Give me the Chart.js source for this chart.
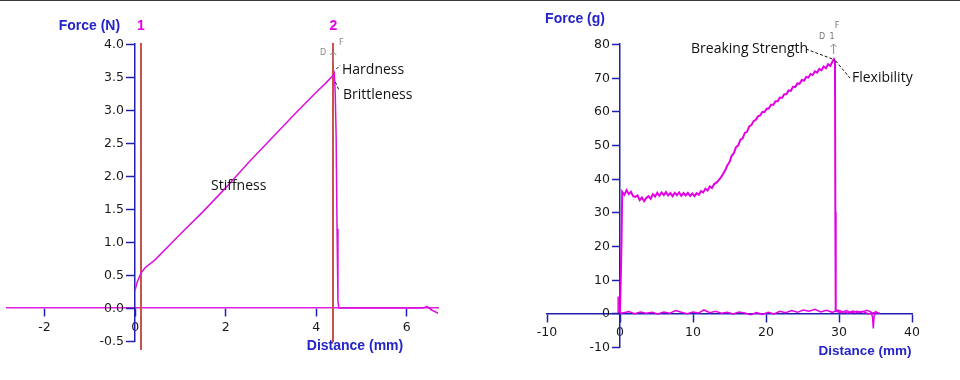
<!DOCTYPE html>
<html><head><meta charset="utf-8">
<script src="https://cdn.jsdelivr.net/npm/chart.js@4.4.1/dist/chart.umd.min.js"></script>
<style>
html,body{margin:0;padding:0;background:#fff;}
#wrap{position:relative;width:960px;height:380px;overflow:hidden;background:#fff;}
#topline{position:absolute;left:0;top:0;width:960px;height:1px;background:#3a3a3a;}
canvas{position:absolute;top:0;}
</style></head><body>
<div id="wrap">
<canvas id="cL" width="480" height="380" style="left:0"></canvas>
<canvas id="cR" width="480" height="380" style="left:480px"></canvas>
<div id="topline"></div>
</div>
<script>
// ---------- Left chart: Force (N) vs Distance (mm) ----------
const distL = [0, 0.05, 0.13, 0.22, 0.44, 1.0, 1.5, 2.0, 2.5, 3.0, 3.5, 4.0, 4.2, 4.38, 4.40, 4.42, 4.44, 4.46, 4.48, 4.50, 5.0, 5.5, 6.0, 6.35, 6.45, 6.55, 6.70];
const forceL = [0.27, 0.40, 0.53, 0.61, 0.73, 1.12, 1.46, 1.82, 2.20, 2.56, 2.92, 3.27, 3.40, 3.53, 3.56, 3.25, 2.60, 1.20, 0.10, 0.0, 0.0, 0.0, 0.0, 0.0, 0.02, -0.03, -0.08];
const xTicksL = [-2, 0, 2, 4, 6];
const xTickLabelsL = ['-2', '0', '2', '4', '6'];
const yTicksL = [-0.5, 0, 0.5, 1.0, 1.5, 2.0, 2.5, 3.0, 3.5, 4.0];
const yTickLabelsL = ['-0.5', '0.0', '0.5', '1.0', '1.5', '2.0', '2.5', '3.0', '3.5', '4.0'];
const markerDistL = [0.13, 4.38];
const markerLabelsL = ['1', '2'];

// ---------- Right chart: Force (g) vs Distance (mm) ----------
const distR = [0, 0.2, 0.3, 0.6, 0.9, 1.2, 1.5, 1.8, 2.1, 2.4, 2.7, 3.0, 3.3, 3.6, 3.9, 4.2, 4.5, 4.8, 5.1, 5.4, 5.7, 6.0, 6.3, 6.6, 6.9, 7.2, 7.5, 7.8, 8.1, 8.4, 8.7, 9.0, 9.3, 9.6, 9.9, 10.2, 10.5, 10.8, 11.1, 11.4, 11.7, 12.0, 12.3, 12.6, 12.9, 13.2, 13.5, 13.8, 14.1, 14.4, 14.7, 15.0, 15.3, 15.6, 15.9, 16.2, 16.5, 16.8, 17.1, 17.4, 17.7, 18.0, 18.3, 18.6, 18.9, 19.2, 19.5, 19.8, 20.1, 20.4, 20.7, 21.0, 21.3, 21.6, 21.9, 22.2, 22.5, 22.8, 23.1, 23.4, 23.7, 24.0, 24.3, 24.6, 24.9, 25.2, 25.5, 25.8, 26.1, 26.4, 26.7, 27.0, 27.3, 27.6, 27.9, 28.2, 28.5, 28.8, 29.1, 29.3, 29.45, 29.5, 29.55];
const forceR = [0, 20, 36.1, 35.2, 36.6, 35.4, 36.1, 34.8, 34.6, 35.0, 33.6, 34.4, 33.3, 34.3, 34.8, 34.0, 35.4, 34.7, 35.8, 34.9, 35.9, 35.1, 36.0, 35.0, 35.7, 34.8, 35.8, 35.1, 35.9, 34.9, 35.7, 35.0, 35.8, 34.9, 35.6, 34.8, 35.7, 35.2, 36.3, 35.9, 37.0, 36.5, 37.7, 37.2, 38.4, 38.8, 39.5, 40.3, 41.3, 42.5, 43.9, 44.9, 46.8, 47.6, 49.4, 49.9, 51.6, 52.0, 53.6, 53.9, 55.5, 55.9, 57.1, 57.5, 58.5, 58.8, 59.8, 59.8, 60.8, 60.9, 62.0, 61.9, 63.0, 63.0, 64.1, 64.0, 65.1, 65.1, 66.2, 66.1, 67.3, 67.2, 68.3, 68.2, 69.3, 69.1, 70.2, 70.0, 71.1, 70.8, 71.9, 71.5, 72.6, 72.2, 73.3, 72.8, 74.0, 73.5, 74.7, 75.5, 74.8, 30, 0.5];
const distRet = [29.6, 30.3, 31.0, 31.7, 32.4, 33.1, 33.8, 34.4, 34.6, 34.7, 34.8, 35.0, 35.3, 35.6, 35.0, 34.0, 33.3, 32.6, 31.9, 31.2, 30.5, 29.8, 29.1, 28.3, 27.5, 26.7, 25.9, 25.1, 24.3, 23.5, 22.7, 21.9, 21.1, 20.3, 19.5, 18.7, 17.9, 17.1, 16.3, 15.5, 14.7, 13.9, 13.1, 12.3, 11.5, 10.8, 10.0, 9.2, 8.4, 7.6, 6.8, 6.0, 5.2, 4.4, 3.6, 2.8, 2.0, 1.2, 0.5, 0.0, -0.25, -0.25];
const forceRet = [0.6, 0.2, 0.8, 0.1, 0.6, 0.3, 0.9, 0.4, -1.2, -4.5, -1.0, 0.5, 0.2, 0.0, 0.3, -0.2, 0.6, 0.2, 0.7, 0.1, 0.5, 1.0, 0.3, 0.9, 0.4, 1.2, 0.6, 1.0, 0.3, 0.8, 0.2, 0.6, -0.2, 0.3, -0.3, 0.2, -0.4, 0.1, 0.4, -0.2, 0.3, 0.0, 0.6, 0.2, 1.0, 0.1, 0.4, -0.1, 0.3, 0.8, 0.0, 0.4, -0.2, 0.3, 0.0, 0.4, -0.1, 0.5, 0.2, 0.0, 0.0, 5.0];
const xTicksR = [-10, 0, 10, 20, 30, 40];
const xTickLabelsR = ['-10', '0', '10', '20', '30', '40'];
const yTicksR = [-10, 0, 10, 20, 30, 40, 50, 60, 70, 80];
const yTickLabelsR = ['-10', '0', '10', '20', '30', '40', '50', '60', '70', '80'];

const BLUE = '#2020b0';
const TITLE_BLUE = '#2424c8';
const MAGENTA = '#e400e4';
const RED = '#c8524c';
const TICK_FONT = {family: 'DejaVu Sans', size: 12.5};

function pts(xs, ys) { return xs.map((x, i) => ({x: x, y: ys[i]})); }

function xScale(min, max, ticks, labels, borderColor) {
  return {
    type: 'linear', min: min, max: max, position: {y: 0},
    afterBuildTicks: s => { s.ticks = ticks.map(v => ({value: v})); },
    grid: {display: true, drawOnChartArea: false, drawTicks: true, tickLength: 8, tickWidth: 1.5, tickColor: BLUE},
    border: {display: true, color: borderColor, width: 1.5},
    ticks: {font: TICK_FONT, color: '#1a1a1a', padding: 4, autoSkip: false, maxRotation: 0,
            callback: (v, i) => labels[i]}
  };
}
function yScale(min, max, ticks) {
  return {
    type: 'linear', min: min, max: max, position: {x: 0},
    afterBuildTicks: s => { s.ticks = ticks.map(v => ({value: v})); },
    grid: {display: false},
    border: {display: true, color: BLUE, width: 1.5},
    ticks: {display: false}
  };
}
// y ticks and labels placed left of the axis line, from the library's y scale
function drawYTicks(chart, labels, tl, gap) {
  const ctx = chart.ctx, xs = chart.scales.x, ys = chart.scales.y;
  const ax = Math.round(xs.getPixelForValue(0));
  ctx.save();
  ctx.strokeStyle = BLUE; ctx.lineWidth = 1.5;
  ctx.font = '12.5px "DejaVu Sans"'; ctx.fillStyle = '#1a1a1a';
  ctx.textAlign = 'right'; ctx.textBaseline = 'middle';
  ys.ticks.forEach((t, i) => {
    const py = Math.round(ys.getPixelForValue(t.value)) + 0.5;
    ctx.beginPath(); ctx.moveTo(ax - tl, py); ctx.lineTo(ax, py); ctx.stroke();
    ctx.fillText(labels[i], ax - tl - gap, py);
  });
  ctx.restore();
}

function text(ctx, s, x, y, font, color, align) {
  ctx.save();
  ctx.font = font; ctx.fillStyle = color; ctx.textAlign = align || 'left'; ctx.textBaseline = 'middle';
  ctx.fillText(s, x, y);
  ctx.restore();
}
function dashed(ctx, x1, y1, x2, y2) {
  ctx.save();
  ctx.strokeStyle = '#111'; ctx.lineWidth = 1; ctx.setLineDash([3, 2]);
  ctx.beginPath(); ctx.moveTo(x1, y1); ctx.lineTo(x2, y2); ctx.stroke();
  ctx.restore();
}
function arrowUp(ctx, x, y1, y2) {
  ctx.save();
  ctx.strokeStyle = '#888'; ctx.lineWidth = 1;
  ctx.beginPath(); ctx.moveTo(x, y2); ctx.lineTo(x, y1);
  ctx.moveTo(x - 3, y1 + 3); ctx.lineTo(x, y1); ctx.lineTo(x + 3, y1 + 3); ctx.stroke();
  ctx.restore();
}

const leftPlugin = {
  id: 'leftDecor',
  beforeDatasetsDraw(chart) {
    const ctx = chart.ctx, xs = chart.scales.x, ys = chart.scales.y;
    ctx.save();
    ctx.strokeStyle = RED; ctx.lineWidth = 2;
    markerDistL.forEach((d, i) => {
      const px = Math.round(xs.getPixelForValue(d));
      ctx.beginPath();
      ctx.moveTo(px, ys.getPixelForValue(4.0) - 1);
      ctx.lineTo(px, i === 0 ? ys.getPixelForValue(-0.5) + 9 : ys.getPixelForValue(-0.5) + 1);
      ctx.stroke();
    });
    ctx.restore();
  },
  afterDraw(chart) {
    const ctx = chart.ctx, xs = chart.scales.x, ys = chart.scales.y;
    drawYTicks(chart, yTickLabelsL, 9, 2);
    const x0 = xs.getPixelForValue(0);
    markerDistL.forEach((d, i) => {
      text(ctx, markerLabelsL[i], xs.getPixelForValue(d), 26, 'bold 14px "Liberation Sans"', MAGENTA, 'center');
    });
    text(ctx, 'Force (N)', x0 - 15, 26, 'bold 14px "Liberation Sans"', TITLE_BLUE, 'right');
    text(ctx, 'Distance (mm)', 355, 346, 'bold 14px "Liberation Sans"', TITLE_BLUE, 'center');
    // annotations
    const pkx = xs.getPixelForValue(4.40), pky = ys.getPixelForValue(3.56);
    text(ctx, 'Hardness', 342, 70, '14px "Open Sans"', '#111', 'left');
    text(ctx, 'Brittleness', 343, 95, '14px "Open Sans"', '#111', 'left');
    text(ctx, 'Stiffness', 211, 186, '14px "Open Sans"', '#111', 'left');
    dashed(ctx, pkx + 2, pky - 4, pkx + 6, pky - 8);
    dashed(ctx, pkx + 1, pky + 9, pkx + 5, pky + 18);
    text(ctx, 'F', 339, 43, '8px "DejaVu Sans"', '#888', 'left');
    text(ctx, 'D', 323, 53, '8px "DejaVu Sans"', '#888', 'center');
    arrowUp(ctx, pkx - 1, 52, 62);
  }
};

const rightPlugin = {
  id: 'rightDecor',
  afterDraw(chart) {
    const ctx = chart.ctx, xs = chart.scales.x, ys = chart.scales.y;
    drawYTicks(chart, yTickLabelsR, 8, 2);
    const x0 = xs.getPixelForValue(0);
    text(ctx, 'Force (g)', x0 - 15, 19, 'bold 14px "Liberation Sans"', TITLE_BLUE, 'right');
    text(ctx, 'Distance (mm)', 385, 351, 'bold 13.5px "Liberation Sans"', TITLE_BLUE, 'center');
    const pkx = xs.getPixelForValue(29.4), pky = ys.getPixelForValue(75.3);
    text(ctx, 'Breaking Strength', 211, 49, '14px "Open Sans"', '#111', 'left');
    text(ctx, 'Flexibility', 372, 78, '14px "Open Sans"', '#111', 'left');
    dashed(ctx, 326, 49, pkx, pky);
    dashed(ctx, pkx + 1, pky + 1, 370, 78);
    text(ctx, 'D', 342, 37, '8px "DejaVu Sans"', '#777', 'center');
    text(ctx, '1', 352, 37, '8px "DejaVu Sans"', '#777', 'center');
    text(ctx, 'F', 357, 26, '8px "DejaVu Sans"', '#777', 'center');
    arrowUp(ctx, pkx - 1, 44, 54);
  }
};

Chart.defaults.font.family = 'DejaVu Sans';

new Chart(document.getElementById('cL'), {
  type: 'line',
  data: {datasets: [{
    label: 'Force (N)', data: pts(distL, forceL),
    borderColor: '#dc10dc', borderWidth: 1.5, pointRadius: 0, tension: 0, fill: false
  }]},
  options: {
    responsive: false, animation: false, devicePixelRatio: 1,
    layout: {padding: {left: 7, right: 42, top: 44, bottom: 39}},
    plugins: {legend: {display: false}, tooltip: {enabled: false}, title: {display: false}},
    scales: {
      x: xScale(-2.83, 6.69, xTicksL, xTickLabelsL, '#e020e0'),
      y: yScale(-0.5, 4.0, yTicksL)
    }
  },
  plugins: [leftPlugin]
});

new Chart(document.getElementById('cR'), {
  type: 'line',
  data: {datasets: [
    {label: 'Return', data: pts(distRet, forceRet),
     borderColor: MAGENTA, borderWidth: 1.5, pointRadius: 0, tension: 0, fill: false},
    {label: 'Force (g)', data: pts(distR, forceR),
     borderColor: MAGENTA, borderWidth: 2, pointRadius: 0, tension: 0, fill: false}
  ]},
  options: {
    responsive: false, animation: false, devicePixelRatio: 1,
    layout: {padding: {left: 67, right: 48, top: 44, bottom: 33}},
    plugins: {legend: {display: false}, tooltip: {enabled: false}, title: {display: false}},
    scales: {
      x: xScale(-10, 40, xTicksR, xTickLabelsR, BLUE),
      y: yScale(-10, 80, yTicksR)
    }
  },
  plugins: [rightPlugin]
});
</script>
</body></html>
